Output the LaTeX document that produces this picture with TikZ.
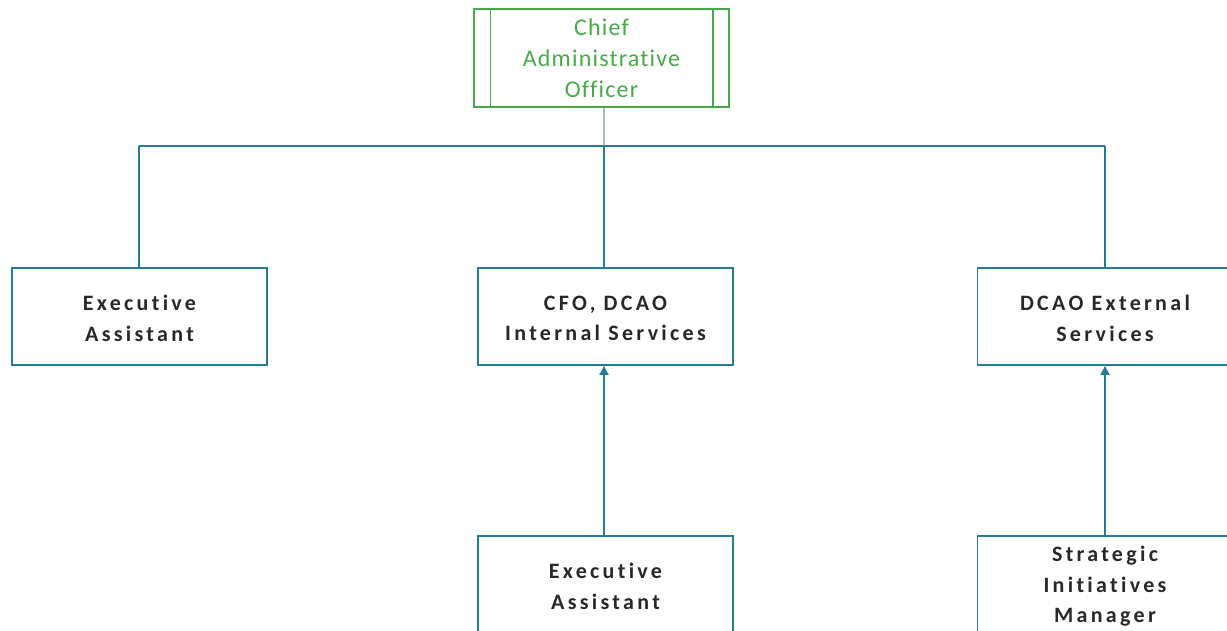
\documentclass[tikz,border=0pt]{standalone}
\usepackage{fontspec}
\setmainfont{Carlito}
\newfontfamily\boxfont[LetterSpace=15,Ligatures=NoCommon]{Carlito}
\newfontfamily\ceofont[LetterSpace=5,Ligatures=NoCommon]{Carlito}
\usetikzlibrary{arrows.meta}
\definecolor{boxblue}{RGB}{35,125,150}
\definecolor{ceogreen}{RGB}{70,170,70}
\definecolor{txtdark}{RGB}{40,40,40}
\definecolor{stemgrey}{RGB}{170,190,195}
\tikzset{
  orgbox/.style={draw=boxblue, line width=1.8pt, minimum width=255pt, minimum height=97pt, inner sep=0pt},
  boxtext/.style={align=center, text=txtdark, font=\boxfont\bfseries\fontsize{22}{30.5}\selectfont, inner sep=0pt, yshift=-2pt},
  ceobox/.style={draw=ceogreen, line width=1.6pt, minimum width=255pt, minimum height=98pt,
    align=center, text=ceogreen, font=\ceofont\fontsize{24}{31}\selectfont, inner sep=0pt},
  link/.style={draw=boxblue, line width=1.8pt},
  uparrow/.style={draw=boxblue, line width=1.8pt, -{Triangle[length=9pt,width=9pt]}}
}
\begin{document}
\begin{tikzpicture}[x=1pt,y=-1pt]
\useasboundingbox (0,0) rectangle (1227,630);
\node[ceobox] (ceo) at (601.5,58) {Chief\\Administrative\\Officer};
\draw[ceogreen, line width=1.4pt] ([xshift=17pt]ceo.north west) -- ([xshift=17pt]ceo.south west);
\draw[ceogreen, line width=1.4pt] ([xshift=-17pt]ceo.north east) -- ([xshift=-17pt]ceo.south east);

\node[orgbox, label={[boxtext]center:{Executive\\Assistant}}] (ea1) at (139.5,316.5) {};
\node[orgbox, label={[boxtext]center:{CFO, DCAO\\Internal Services}}] (cfo) at (605.5,316.5) {};
\node[orgbox, label={[boxtext]center:{DCAO External\\Services}}] (ext) at (1105,316.5) {};
\node[orgbox, label={[boxtext]center:{Executive\\Assistant}}] (ea2) at (605.5,584.5) {};
\node[orgbox, label={[boxtext]center:{Strategic\\Initiatives\\Manager}}] (sim) at (1105,584.5) {};

\coordinate (bus) at (604,146);
\draw[stemgrey, line width=1.8pt] ([xshift=2.5pt]ceo.south) -- ([xshift=2.5pt]ceo.south |- bus);
\draw[link] ([xshift=-0.5pt]ea1.north |- bus) -- (ext.north |- bus);
\draw[link] ([xshift=-0.5pt]ea1.north |- bus) -- ([xshift=-0.5pt]ea1.north);
\draw[link] ([xshift=-1.5pt]cfo.north |- bus) -- ([xshift=-1.5pt]cfo.north);
\draw[link] (ext.north |- bus) -- (ext.north);

\draw[uparrow] ([xshift=-1.5pt]ea2.north) -- ([xshift=-1.5pt]cfo.south);
\draw[uparrow] (sim.north) -- (ext.south);
\end{tikzpicture}
\end{document}
